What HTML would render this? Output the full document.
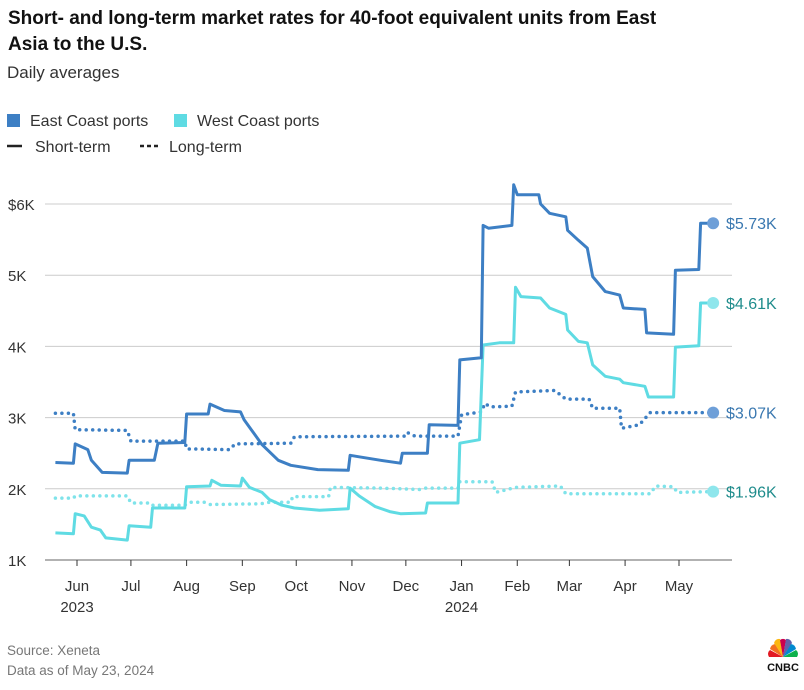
<!DOCTYPE html>
<html><head><meta charset="utf-8"><style>
body{margin:0;background:#fff;font-family:"Liberation Sans",sans-serif;}
svg text{font-family:"Liberation Sans",sans-serif;}
</style></head><body>
<svg width="804" height="685" viewBox="0 0 804 685">
<text x="8" y="24" font-size="19" font-weight="bold" fill="#111">Short- and long-term market rates for 40-foot equivalent units from East</text>
<text x="8" y="50" font-size="19" font-weight="bold" fill="#111">Asia to the U.S.</text>
<text x="7" y="78" font-size="17" fill="#333">Daily averages</text>
<g>
<rect x="7" y="114" width="13" height="13" fill="#3d7fc4"/>
<text x="30" y="126" font-size="16" fill="#333">East Coast ports</text>
<rect x="174" y="114" width="13" height="13" fill="#5fdbe3"/>
<text x="197" y="126" font-size="16" fill="#333">West Coast ports</text>
<line x1="7" y1="146" x2="22" y2="146" stroke="#222" stroke-width="2.5"/>
<text x="35" y="152" font-size="16" fill="#333">Short-term</text>
<line x1="140" y1="146" x2="158" y2="146" stroke="#222" stroke-width="2.5" stroke-dasharray="4 3"/>
<text x="169" y="152" font-size="16" fill="#333">Long-term</text>
</g>
<g id="grid"></g><g id="series"></g><g id="xaxis"></g>
<text x="7" y="655" font-size="13.5" fill="#777">Source: Xeneta</text>
<text x="7" y="675" font-size="13.5" fill="#777">Data as of May 23, 2024</text>
<g transform="translate(783,657)">
<path d="M0,0 L-13,-8 A6,6 0 0 1 -8,-13 Z" fill="#f37021"/>
<path d="M0,0 L-9,-14 A5,5 0 0 1 -3,-18 Z" fill="#fcb711"/>
<path d="M0,0 L-3,-17 A5,5 0 0 1 3,-17 Z" fill="#cc004c"/>
<path d="M0,0 L3,-18 A5,5 0 0 1 9,-14 Z" fill="#6460aa"/>
<path d="M0,0 L8,-13 A6,6 0 0 1 13,-8 Z" fill="#0089d0"/>
<path d="M0,0 L13,-7 A5,5 0 0 1 14,0 Z" fill="#0db14b"/>
<path d="M0,0 L-14,0 A5,5 0 0 1 -13,-7 Z" fill="#e21a23"/>
<text x="0" y="14" font-size="11" font-weight="bold" fill="#111" text-anchor="middle">CNBC</text>
</g>
</svg>
<script>
// days since 2023-06-01, values in $K
const yTicks=[1,2,3,4,5,6];
const yTickLabels=["1K","2K","3K","4K","5K","$6K"];
const monthLabels=["Jun","Jul","Aug","Sep","Oct","Nov","Dec","Jan","Feb","Mar","Apr","May"];
const monthDays=[0,30,61,92,122,153,183,214,245,274,305,335];
const yearLabels=["2023","","","","","","","2024","","","",""];
const eastShortDays=[-12,-2,-1,6,8,14,28,29,43,45,60,61,73,74,82,91,93,97,103,112,119,134,151,152,157,169,180,181,195,196,212,213,225,226,229,242,243,245,257,258,263,272,273,279,284,287,294,302,304,316,317,332,333,346,347,354];
const eastShortVals=[2.37,2.36,2.63,2.55,2.40,2.23,2.22,2.40,2.40,2.64,2.65,3.05,3.05,3.19,3.10,3.08,2.97,2.83,2.62,2.40,2.33,2.27,2.26,2.47,2.45,2.40,2.36,2.50,2.50,2.90,2.89,3.81,3.84,5.70,5.66,5.70,6.27,6.13,6.13,6.00,5.87,5.82,5.63,5.49,5.38,4.98,4.77,4.72,4.54,4.52,4.19,4.17,5.07,5.08,5.73,5.73];
const westShortDays=[-12,-2,-1,4,8,13,16,28,29,41,42,60,61,74,75,80,91,92,96,103,107,114,121,135,151,152,157,166,174,180,194,195,212,213,224,226,235,243,244,247,258,263,272,273,279,284,287,294,302,304,316,318,332,333,346,347,354];
const westShortVals=[1.38,1.37,1.65,1.62,1.46,1.42,1.31,1.28,1.48,1.46,1.73,1.73,2.03,2.04,2.12,2.05,2.04,2.15,2.02,1.95,1.85,1.77,1.73,1.70,1.72,2.01,1.90,1.75,1.68,1.65,1.66,1.80,1.80,2.64,2.69,4.02,4.05,4.05,4.83,4.70,4.68,4.54,4.45,4.23,4.07,4.05,3.74,3.58,3.54,3.49,3.44,3.29,3.29,3.99,4.01,4.61,4.61];
const eastLongDays=[-12,-2,-1,28,30,60,61,85,88,119,121,183,184,188,212,214,225,227,230,242,244,266,272,285,287,302,303,313,319,354];
const eastLongVals=[3.06,3.06,2.83,2.82,2.67,2.67,2.56,2.55,2.63,2.64,2.73,2.74,2.79,2.74,2.74,3.04,3.08,3.20,3.15,3.16,3.36,3.38,3.26,3.26,3.13,3.13,2.85,2.90,3.07,3.07];
const westLongDays=[-12,-2,-1,28,30,40,41,60,63,71,74,102,107,119,120,140,141,169,191,194,212,213,231,233,244,269,272,319,322,332,334,354];
const westLongVals=[1.87,1.87,1.90,1.90,1.80,1.80,1.77,1.77,1.81,1.81,1.78,1.79,1.81,1.81,1.89,1.89,2.02,2.01,1.99,2.01,2.01,2.10,2.10,1.95,2.02,2.04,1.93,1.93,2.04,2.03,1.95,1.96];
const endLabels=["$5.73K","$4.61K","$3.07K","$1.96K"];

const NS="http://www.w3.org/2000/svg";
const X=d=>77+d*1.797;
const Y=v=>560-(v-1)*71.2;
function mk(tag,attrs,parent){const e=document.createElementNS(NS,tag);for(const k in attrs)e.setAttribute(k,attrs[k]);parent.appendChild(e);return e;}
const grid=document.getElementById('grid'),ser=document.getElementById('series'),xa=document.getElementById('xaxis');
yTicks.forEach((t,i)=>{
  const l=mk('line',{x1:45,x2:732,y1:Y(t),y2:Y(t),stroke:i==0?'#999':'#ccc','stroke-width':i==0?1.5:1},grid);
  
  
  const tx=mk('text',{x:8,y:Y(t)+6,'font-size':15,fill:'#333'},grid);tx.textContent=yTickLabels[i];
  
  
});
monthDays.forEach((d,i)=>{
  const tk=mk('line',{x1:X(d),x2:X(d),y1:560,y2:566,stroke:'#333','stroke-width':1},xa);
  
  
  const tx=mk('text',{x:X(d),y:591,'font-size':15,fill:'#333','text-anchor':'middle'},xa);tx.textContent=monthLabels[i];
  
  
  if(yearLabels[i]){const yt=mk('text',{x:X(d),y:612,'font-size':15,fill:'#333','text-anchor':'middle'},xa);yt.textContent=yearLabels[i];
  
  }
});
const series=[
 [westLongDays,westLongVals,'#7fe3ea',true,'#8ee6ec','#1f8c8c','west-long-line'],
 [eastLongDays,eastLongVals,'#3d7fc4',true,'#6e9fd8','#3a78b0','east-long-line'],
 [westShortDays,westShortVals,'#5fdbe3',false,'#8ee6ec','#1f8c8c','west-short-line'],
 [eastShortDays,eastShortVals,'#3d7fc4',false,'#6e9fd8','#3a78b0','east-short-line']];
const labelOrder=[3,2,1,0];
series.forEach((s,i)=>{
  const pts=s[0].map((d,j)=>X(d).toFixed(1)+','+Y(s[1][j]).toFixed(1)).join(' ');
  const a={points:pts,fill:'none',stroke:s[2],'stroke-width':s[3]?3.5:3,'stroke-linejoin':'round'};
  if(s[3]){a['stroke-dasharray']='0 6.5';a['stroke-linecap']='round';}
  const p=mk('polyline',a,ser);
  
  
  const ld=s[0][s[0].length-1],lv=s[1][s[1].length-1];
  const c=mk('circle',{cx:X(ld),cy:Y(lv),r:6,fill:s[4]},ser);
  
  
  const t=mk('text',{x:726,y:Y(lv)+6,'font-size':16,fill:s[5]},ser);
  t.textContent=endLabels[labelOrder[i]];
  
  
});
</script>
</body></html>
